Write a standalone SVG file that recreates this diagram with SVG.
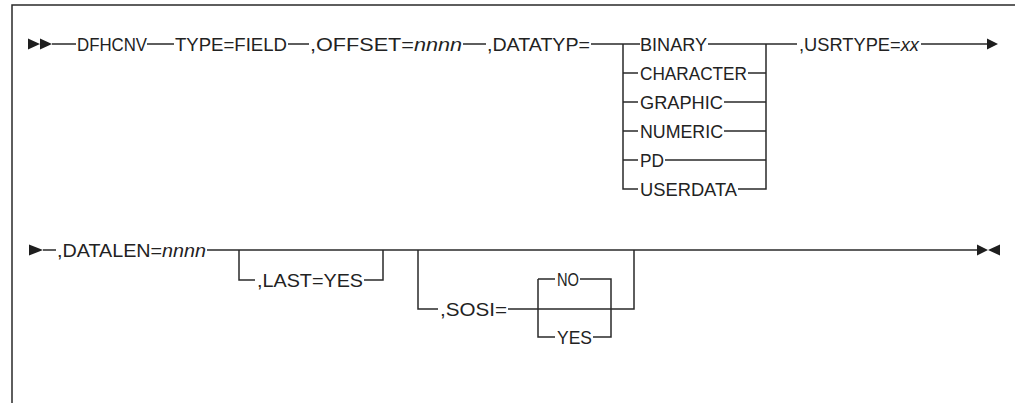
<svg xmlns="http://www.w3.org/2000/svg" width="1015" height="403" viewBox="0 0 1015 403">
<style>
  .t { font-family: "Liberation Sans", Arial, sans-serif; font-size: 18px; fill: #222; }
  .i { font-style: italic; }
  .c { fill: none; stroke: #2a2a2a; stroke-width: 1.5; }
  .ar { fill: #1e1e1e; }
</style>
<rect width="1015" height="403" fill="#ffffff"/>
<g id="frame">
  <path class="c" d="M12,403 V5 H1015"/>
</g>
<g id="connectors">
  <!-- row 1 main line -->
  <path class="c" d="M52,44 H76 M147,44 H174 M288,44 H309 M463,44 H486 M591,44 H640 M708,44 H797 M921,44 H988"/>
  <!-- DATATYP branches -->
  <path class="c" d="M623,44 V189 H638 M623,73 H638 M623,102 H638 M623,131 H638 M623,160 H638"/>
  <path class="c" d="M766,44 V189 H738 M766,73 H748 M766,102 H724 M766,131 H724 M766,160 H665"/>
  <!-- row 2 -->
  <path class="c" d="M43,250 H56 M207,250 H977"/>
  <path class="c" d="M239,250 V280 H255 M364,280 H383 V250"/>
  <path class="c" d="M418,250 V309 H438 M508,309 H634 V250"/>
  <path class="c" d="M538,279 V337 H555 M538,279 H555 M580,279 H611 V337 H593"/>
  <!-- arrowheads -->
  <path class="ar" d="M28,38.5 L40,44 L28,49.5 Z M40,38.5 L52,44 L40,49.5 Z"/>
  <path class="ar" d="M987,38.5 L998,44 L987,49.5 Z"/>
  <path class="ar" d="M29,244.5 L43,250 L29,255.5 Z"/>
  <path class="ar" d="M977,244.5 L988,250 L977,255.5 Z M1000,244.5 L988,250 L1000,255.5 Z"/>
</g>
<g id="n-dfhcnv"><text class="t" x="77" y="50.5" textLength="70" lengthAdjust="spacingAndGlyphs">DFHCNV</text></g>
<g id="n-type"><text class="t" x="175" y="50.5" textLength="112" lengthAdjust="spacingAndGlyphs">TYPE=FIELD</text></g>
<g id="n-offset"><text class="t" x="310" y="50.5" textLength="152" lengthAdjust="spacingAndGlyphs">,OFFSET=<tspan class="i">nnnn</tspan></text></g>
<g id="n-datatyp"><text class="t" x="487" y="50.5" textLength="103" lengthAdjust="spacingAndGlyphs">,DATATYP=</text></g>
<g id="n-binary"><text class="t" x="640" y="50.5" textLength="67" lengthAdjust="spacingAndGlyphs">BINARY</text></g>
<g id="n-character"><text class="t" x="640" y="79.5" textLength="107" lengthAdjust="spacingAndGlyphs">CHARACTER</text></g>
<g id="n-graphic"><text class="t" x="640" y="108.5" textLength="83" lengthAdjust="spacingAndGlyphs">GRAPHIC</text></g>
<g id="n-numeric"><text class="t" x="640" y="137.5" textLength="83" lengthAdjust="spacingAndGlyphs">NUMERIC</text></g>
<g id="n-pd"><text class="t" x="640" y="166.5" textLength="24" lengthAdjust="spacingAndGlyphs">PD</text></g>
<g id="n-userdata"><text class="t" x="640" y="195.5" textLength="97" lengthAdjust="spacingAndGlyphs">USERDATA</text></g>
<g id="n-usrtype"><text class="t" x="799" y="50.5" textLength="120" lengthAdjust="spacingAndGlyphs">,USRTYPE=<tspan class="i">xx</tspan></text></g>
<g id="n-datalen"><text class="t" x="57" y="256.5" textLength="149" lengthAdjust="spacingAndGlyphs">,DATALEN=<tspan class="i">nnnn</tspan></text></g>
<g id="n-last"><text class="t" x="257" y="286.5" textLength="106" lengthAdjust="spacingAndGlyphs">,LAST=YES</text></g>
<g id="n-sosi"><text class="t" x="440" y="315.5" textLength="67" lengthAdjust="spacingAndGlyphs">,SOSI=</text></g>
<g id="n-no"><text class="t" x="557" y="285.5" textLength="22" lengthAdjust="spacingAndGlyphs">NO</text></g>
<g id="n-yes"><text class="t" x="557" y="343.5" textLength="35" lengthAdjust="spacingAndGlyphs">YES</text></g>
</svg>
